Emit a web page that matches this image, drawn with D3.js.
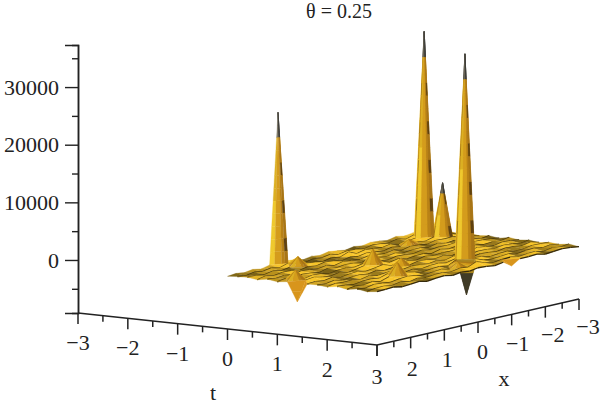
<!DOCTYPE html>
<html>
<head>
<meta charset="utf-8">
<script src="https://cdn.jsdelivr.net/npm/d3@7"></script>
<style>
  html, body { margin: 0; background: #fff; }
  text { font-family: "Liberation Serif", serif; fill: #222; }
</style>
</head>
<body>
<div id="chart"></div>
<script>
// Chart values
const chartTitle = "θ = 0.25";
const tTicks = [-3, -2, -1, 0, 1, 2, 3];
const tMinorTicks = [-2.5, -1.5, -0.5, 0.5, 1.5, 2.5];
const xTicks = [3, 2, 1, 0, -1, -2, -3];
const xMinorTicks = [2.5, 1.5, 0.5, -0.5, -1.5, -2.5];
const zTicks = [0, 10000, 20000, 30000];
const zMinorTicks = [-5000, 5000, 15000, 25000, 35000];

// Surface grid: rows follow tValues, columns follow xValues
const tValues = [0, 0.2, 0.4, 0.6, 0.8, 1, 1.2, 1.4, 1.6, 1.8, 2, 2.2, 2.4, 2.6, 2.8, 3];
const xValues = [-3, -2.75, -2.5, -2.25, -2, -1.75, -1.5, -1.25, -1, -0.75, -0.5, -0.25, 0, 0.25, 0.5, 0.75, 1, 1.25, 1.5, 1.75, 2, 2.25, 2.5, 2.75, 3];
const zValues = [
  [90, -120, 160, -60, 210, -140, 70, 180, -90, 130, -170, 60, 240, -80, 110, -150, 190, 300, 26400, 250, -110, 150, -70, 120, -60],
  [-70, 180, -40, 300, -130, 220, -90, 60, 200, -160, 80, 170, -120, 230, -50, 140, -190, 90, 350, -100, 210, -60, 170, -130, 80],
  [130, -60, 300, 35800, 250, 90, -170, 210, -50, 120, 240, -110, 500, -70, 180, -140, 60, 220, 1700, 150, -80, 190, -120, 70, 140],
  [-110, 200, 9400, 300, -90, 170, 900, -60, 190, -130, 70, 210, -80, 150, -190, 100, 240, -60, 130, -170, 90, 160, -50, 210, -100],
  [160, -80, 200, 140, 230, -120, 90, 180, -150, 220, -60, 110, 190, -100, 60, 210, -130, 170, -70, 120, 240, -90, 150, -40, 180],
  [-50, 210, -130, 70, -90, 190, -160, 120, 60, -110, 200, -70, 140, 230, -120, 80, 170, -50, 210, -140, 60, 190, -100, 130, -80],
  [120, -90, 170, -140, 220, 60, 130, -70, 240, -50, 110, 180, -130, 70, -100, 200, -60, 150, 90, -170, 130, 220, -80, 1800, 110],
  [-130, 60, 190, 240, -100, 150, -50, 210, -160, 120, 70, -90, 230, -60, 500, 2900, 400, 110, -140, 190, -70, 60, 400, 200, -3200],
  [180, -110, 50, -70, 160, -130, 200, 90, 130, -40, 220, -150, 80, 170, -90, 400, 140, -60, 200, 100, -130, 240, -50, 160, 70],
  [-60, 150, 220, -120, 70, 240, -90, 140, -170, 190, -60, 110, 210, -110, 1400, 130, -80, 220, -40, 170, 60, -120, 190, -90, 120],
  [100, -170, 80, 190, -50, 110, 170, -140, 60, 230, -120, 160, -70, 90, 210, -50, 120, 60, -150, 230, -100, 140, 70, 180, -60],
  [-140, 230, -80, 130, 200, -60, 90, 210, -110, 70, 300, -70, 190, 130, -100, 170, -40, 240, 400, -60, 150, 80, -130, 60, 210],
  [70, 120, 190, -90, -150, 170, 60, -100, 220, 350, 36100, 700, -60, 180, 70, -130, 200, 500, 2500, 400, -90, 190, -70, 120, -110],
  [-90, 170, -60, 210, 110, -130, 230, 80, -50, 160, 700, -5200, 800, -110, 200, 60, -140, 130, 300, 190, -50, 110, 230, -80, 150],
  [150, -50, 120, -160, 180, 70, -110, 190, 90, -130, 210, 700, 70, 230, -60, 140, 100, -90, 180, -120, 220, -70, 130, 60, -140],
  [-120, 80, 200, 60, -100, 240, 130, 150, -800, 170, -80, 120, 210, -40, 130, -110, 190, 70, -130, 160, 50, -90, 200, 110, 60]
];

// Oblique view: t and x each move the point across and down the page, z moves it up
const originX = 78;
const tAcross = d3.scaleLinear().domain([-3, 3]).range([0, 299]);
const tDown = d3.scaleLinear().domain([-3, 3]).range([0, 32]);
const xAcross = d3.scaleLinear().domain([3, -3]).range([0, 202]);
const xDown = d3.scaleLinear().domain([3, -3]).range([0, -46]);
const zScale = d3.scaleLinear().domain([-9200, 37300]).range([313, 45]);

const groundY = (t, x) => zScale(-9200) + tDown(t) + xDown(x);
const project = (t, x, z) => [
  originX + tAcross(t) + xAcross(x),
  zScale(z) + tDown(t) + xDown(x)
];

const svg = d3.select("#chart")
  .append("svg")
  .attr("width", 600)
  .attr("height", 408);

svg.append("defs").append("filter")
  .attr("id", "soft")
  .append("feGaussianBlur")
  .attr("stdDeviation", 0.35);

// Flat patches are coloured by height
const flatColor = d3.scaleLinear()
  .domain([-70, 0, 50, 100])
  .range(["#54440e", "#7d6418", "#c09620", "#f7c52b"])
  .clamp(true);

// Build patches and row lines for every grid cell
const shapes = [];
const vertex = (i, j) => ({ t: tValues[i], x: xValues[j], z: zValues[i][j] });
const line = d3.line();
const poly = pts => line(pts) + "Z";
const cellKey = cell => d3.mean(cell, d => groundY(d.t, d.x));
const lerp = (A, B, f) => [A[0] + (B[0] - A[0]) * f, A[1] + (B[1] - A[1]) * f];

// Strips across an upward spike, from its left edge to its right edge
const stripStops = [0, 0.28, 0.66, 0.84, 1];

function stripFill(strip, i, f0, big) {
  if (big && f0 < 0.09) return strip >= 2 ? "#3a3a38" : "#6f6a58";
  if (strip === 0) return f0 > 0.55 ? "#efc92e" : "#dcb024";
  if (strip === 1) return "#d49c1c";
  if (strip === 2) return "#b98218";
  return big && i % 3 === 1 ? "#5f4212" : "#a87518";
}

function addTriangle(a, b, c) {
  const key = cellKey([a, b, c]);
  const flat = flatColor((a.z + b.z + c.z) / 3);
  const [top, p, q] = [a, b, c].sort((m, n) => Math.abs(n.z) - Math.abs(m.z));
  const tall = Math.abs(top.z) >= 800;
  const A = project(top.t, top.x, top.z);
  let P = project(p.t, p.x, p.z);
  let Q = project(q.t, q.x, q.z);
  if (P[0] > Q[0]) [P, Q] = [Q, P];
  // tall facets are cut in bands so the tip can go grey and the shaded side can streak
  const n = Math.max(1, Math.ceil(Math.abs(A[1] - (P[1] + Q[1]) / 2) / 13));
  for (let i = 0; i < n; i++) {
    const f0 = i / n, f1 = (i + 1) / n;
    const L0 = lerp(A, P, f0), R0 = lerp(A, Q, f0), L1 = lerp(A, P, f1), R1 = lerp(A, Q, f1);
    if (tall && top.z > 0) {
      stripStops.slice(1).forEach((s1, k) => {
        const s0 = stripStops[k];
        shapes.push({
          key: key + i * 0.001 + k * 0.0001,
          d: poly([lerp(L0, R0, s0), lerp(L0, R0, s1), lerp(L1, R1, s1), lerp(L1, R1, s0)]),
          fill: stripFill(k, i, f0, top.z > 5000)
        });
      });
    } else {
      let fill = flat;
      // downward spikes: the deep one is dark and only shows below the sheet
      if (tall && top.z < -4000) fill = f0 < 0.6 ? "#3f3a26" : "#a88420";
      else if (tall) fill = "#d8951c";
      shapes.push({ key: key + i * 0.001, d: poly([L0, R0, R1, L1]), fill });
    }
  }
}

for (let i = 0; i < tValues.length - 1; i++) {
  for (let j = 0; j < xValues.length - 1; j++) {
    const c00 = vertex(i, j), c01 = vertex(i, j + 1), c10 = vertex(i + 1, j), c11 = vertex(i + 1, j + 1);
    const cell = [c00, c01, c11, c10];
    const top = cell.slice().sort((p, q) => Math.abs(q.z) - Math.abs(p.z))[0];
    if (Math.abs(top.z) < 800) {
      shapes.push({
        key: cellKey(cell),
        d: poly(cell.map(v => project(v.t, v.x, v.z))),
        fill: flatColor(d3.mean(cell, d => d.z))
      });
    } else if (top === c00 || top === c11) {
      // cut away from the high corner so a spike stands on its four neighbours only
      addTriangle(c01, c10, c00);
      addTriangle(c01, c10, c11);
    } else {
      addTriangle(c00, c11, c01);
      addTriangle(c00, c11, c10);
    }
    if (Math.abs(c10.z) < 800 && Math.abs(c11.z) < 800) {
      shapes.push({
        key: cellKey([c10, c11]) + 0.5,
        d: line([project(c10.t, c10.x, c10.z), project(c11.t, c11.x, c11.z)]),
        stroke: "#35290a"
      });
    }
  }
}

svg.append("g")
  .attr("filter", "url(#soft)")
  .selectAll("path")
  .data(shapes.sort((a, b) => a.key - b.key))
  .join("path")
  .attr("d", d => d.d)
  .attr("fill", d => d.fill || "none")
  .attr("stroke", d => d.stroke || d.fill)
  .attr("stroke-width", d => d.stroke ? 1.3 : 0.3);

// Vertical axis with major and minor ticks
const axisG = svg.append("g").attr("transform", `translate(${originX},0)`);
axisG.append("g")
  .call(d3.axisLeft(zScale).tickValues(zMinorTicks).tickSize(6).tickFormat(""));
const zAxis = axisG.append("g")
  .call(d3.axisLeft(zScale).tickValues(zTicks).tickSize(13).tickPadding(6).tickFormat(d3.format("d")));
zAxis.selectAll("text").style("font-size", "22px");
axisG.selectAll(".domain").attr("stroke", "#222").attr("stroke-width", 1.5);
axisG.selectAll(".tick line").attr("stroke", "#222").attr("stroke-width", 1.4);

// Floor axes are oblique, so ticks are placed from the same scales
const floorAxis = svg.append("g").attr("stroke", "#222").attr("stroke-width", 1.5);
floorAxis.append("path")
  .attr("fill", "none")
  .attr("d", line([project(-3, 3, -9200), project(3, 3, -9200), project(3, -3, -9200)]));

function floorTicks(values, pos, size) {
  floorAxis.selectAll(null)
    .data(values)
    .join("line")
    .attr("x1", d => pos(d)[0])
    .attr("x2", d => pos(d)[0])
    .attr("y1", d => pos(d)[1])
    .attr("y2", d => pos(d)[1] + size);
}
const tPos = t => project(t, 3, -9200);
const xPos = x => project(3, x, -9200);
floorTicks(tTicks, tPos, 11);
floorTicks(tMinorTicks, tPos, 6);
floorTicks(xTicks, xPos, 11);
floorTicks(xMinorTicks, xPos, 6);

const fmt = d => (d < 0 ? "\u2212" + Math.abs(d) : String(d));
const label = (x, y, s, size = 22) => svg.append("text")
  .attr("x", x)
  .attr("y", y)
  .attr("text-anchor", "middle")
  .style("font-size", size + "px")
  .text(s);

// the corner "3" is shared by both floor axes, so only the x axis writes it
tTicks.filter(t => t !== 3).forEach(t => label(tPos(t)[0], tPos(t)[1] + 37, fmt(t)));
const xLabelX = d3.scaleLinear().domain([3, -3]).range([377, 588]);
const xLabelY = d3.scaleLinear().domain([3, -3]).range([384, 334]);
xTicks.forEach(x => label(xLabelX(x), xLabelY(x), fmt(x)));

label(213, 400, "t");
label(504, 386, "x");
label(339, 18, chartTitle, 20);
</script>
</body>
</html>
